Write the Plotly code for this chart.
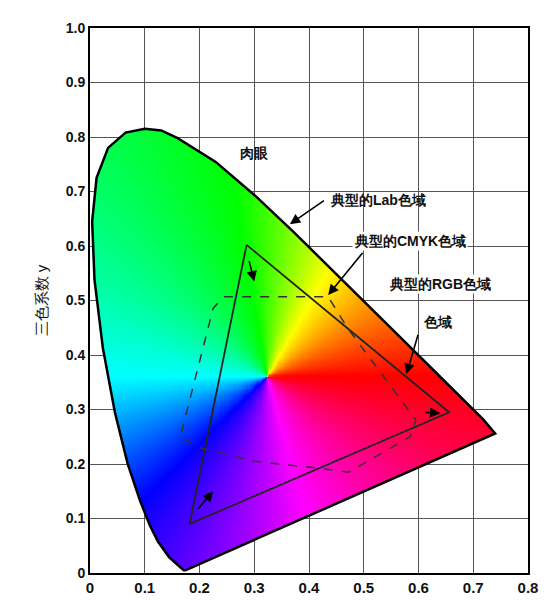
import numpy as np
import plotly.graph_objects as go

# spectral locus (horseshoe) as drawn
locus_x = [0.1741, 0.1714, 0.1644, 0.1566, 0.1440, 0.1241, 0.1096, 0.0913, 0.0687, 0.0454, 0.0235, 0.0082,
           0.0039, 0.0120, 0.0330, 0.0650, 0.1000, 0.1300, 0.1600, 0.2296, 0.3016, 0.3731, 0.4441, 0.5125,
           0.5752, 0.6270, 0.6915, 0.7190, 0.7400]
locus_y = [0.0050, 0.0051, 0.0109, 0.0177, 0.0297, 0.0578, 0.0868, 0.1327, 0.2007, 0.2950, 0.4127, 0.5384,
           0.6450, 0.7250, 0.7800, 0.8080, 0.8150, 0.8120, 0.7980, 0.7543, 0.6923, 0.6245, 0.5547, 0.4866,
           0.4242, 0.3725, 0.3083, 0.2809, 0.2560]
white_x, white_y = 0.324, 0.36
# hue stops (angle in degrees -> colour)
hue_angles = [0, 60, 100, 180, 225, 285, 360]
hue_colors = ["#ff0000", "#ffff00", "#00ff00", "#00ffff", "#0000ff", "#ff00ff", "#ff0000"]

rgb_x = [0.286, 0.656, 0.182, 0.286]
rgb_y = [0.602, 0.295, 0.090, 0.602]
cmyk_x = [0.245, 0.435, 0.470, 0.595, 0.585, 0.472, 0.420, 0.300, 0.200, 0.165, 0.225, 0.245]
cmyk_y = [0.507, 0.507, 0.450, 0.281, 0.250, 0.185, 0.192, 0.205, 0.230, 0.250, 0.486, 0.507]

xticks = [0, 0.1, 0.2, 0.3, 0.4, 0.5, 0.6, 0.7, 0.8]
xlabels = ["0", "0.1", "0.2", "0.3", "0.4", "0.5", "0.6", "0.7", "0.8"]
yticks = [0, 0.1, 0.2, 0.3, 0.4, 0.5, 0.6, 0.7, 0.8, 0.9, 1.0]
ylabels = ["0", "0.1", "0.2", "0.3", "0.4", "0.5", "0.6", "0.7", "0.8", "0.9", "1.0"]

# build hue field masked by the locus polygon
gx = np.linspace(0, 0.8, 400)
gy = np.linspace(0, 0.85, 420)
X, Y = np.meshgrid(gx, gy)
px = np.array(locus_x + [locus_x[0]])
py = np.array(locus_y + [locus_y[0]])
inside = np.zeros(X.shape, bool)
for i in range(len(px) - 1):
    x1, y1, x2, y2 = px[i], py[i], px[i + 1], py[i + 1]
    cond = ((y1 > Y) != (y2 > Y))
    xint = (x2 - x1) * (Y - y1) / (y2 - y1 + 1e-12) + x1
    inside ^= cond & (X < xint)
ang = np.degrees(np.arctan2(Y - white_y, X - white_x)) % 360
Z = np.where(inside, ang, np.nan)
cs = [[a / 360, c] for a, c in zip(hue_angles, hue_colors)]

fig = go.Figure()
fig.add_trace(go.Heatmap(x=gx, y=gy, z=Z, colorscale=cs, zmin=0, zmax=360, showscale=False,
                         hoverinfo="skip"))
fig.add_trace(go.Scatter(x=list(px), y=list(py), mode="lines", line=dict(color="black", width=2.5),
                         hoverinfo="skip"))
fig.add_trace(go.Scatter(x=rgb_x, y=rgb_y, mode="lines", line=dict(color="#222", width=1.8)))
fig.add_trace(go.Scatter(x=cmyk_x, y=cmyk_y, mode="lines", line=dict(color="#333", width=1.5, dash="dash")))

f = dict(family="Liberation Sans, Arial", size=14, color="#111")
anns = [
    dict(x=0.3, y=0.77, text="<b>肉眼</b>", showarrow=False),
    dict(x=0.55, y=0.70, text="<b>典型的Lab色域</b>", showarrow=True, ax=0.435, ay=0.685,
         axref="x", ayref="y", xanchor="left"),
    dict(x=0.585, y=0.61, text="<b>典型的CMYK色域</b>", showarrow=False, bgcolor="white"),
    dict(x=0.64, y=0.53, text="<b>典型的RGB色域</b>", showarrow=False, bgcolor="white"),
    dict(x=0.635, y=0.46, text="<b>色域</b>", showarrow=False, bgcolor="white"),
]
for a in anns:
    a.setdefault("font", f)
    fig.add_annotation(**a)
# arrows
arrows = [
    (0.43, 0.685, 0.365, 0.64),
    (0.50, 0.59, 0.435, 0.51),
    (0.60, 0.44, 0.578, 0.365),
    (0.29, 0.575, 0.30, 0.535),
    (0.610, 0.295, 0.640, 0.293),
    (0.195, 0.115, 0.225, 0.150),
]
for x0, y0, x1, y1 in arrows:
    fig.add_annotation(x=x1, y=y1, ax=x0, ay=y0, axref="x", ayref="y", xref="x", yref="y",
                       text="", showarrow=True, arrowhead=2, arrowsize=1.3, arrowwidth=1.6,
                       arrowcolor="black")

fig.update_layout(width=551, height=600, margin=dict(l=82, r=31, t=20, b=20),
                  plot_bgcolor="white", paper_bgcolor="white", showlegend=False,
                  font=dict(family="Liberation Sans, Arial", size=14, color="#111"))
fig.update_xaxes(range=[0, 0.8], tickvals=xticks, ticktext=xlabels, showgrid=True, gridcolor="#555",
                 gridwidth=1, showline=True, linecolor="black", linewidth=2, mirror=True,
                 tickfont=dict(size=15, family="Liberation Sans", color="#111"), zeroline=False)
fig.update_yaxes(range=[0, 1.0], tickvals=yticks, ticktext=[f"<b>{t}</b>" for t in ylabels],
                 showgrid=True, gridcolor="#555", gridwidth=1, showline=True, linecolor="black",
                 linewidth=2, mirror=True, zeroline=False,
                 title=dict(text="三色系数 y", font=dict(size=15), standoff=14))
fig.update_xaxes(ticktext=[f"<b>{t}</b>" for t in xlabels])
fig.write_html("out.html")
